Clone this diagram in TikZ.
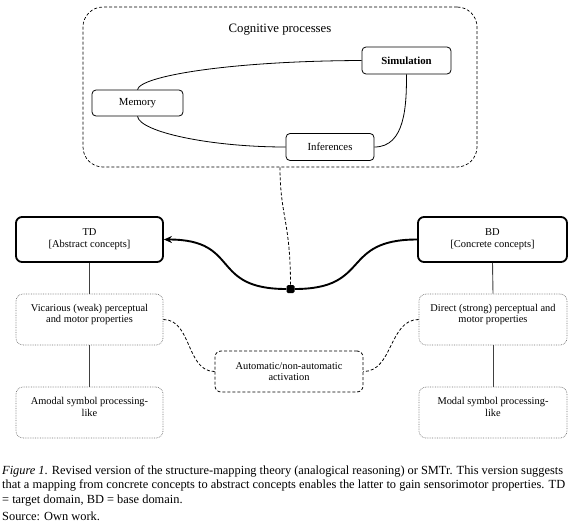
\documentclass[tikz,border=0pt]{standalone}
\usepackage{fontspec}
\setmainfont{Liberation Serif}
\usetikzlibrary{arrows.meta}
\begin{document}
\begin{tikzpicture}[x=1pt,y=-1pt,
  outerbox/.style={draw, line width=0.7pt, dash pattern=on 3pt off 2pt, rounded corners=20pt, inner sep=0pt},
  proc/.style={draw, line width=0.8pt, rounded corners=4pt, inner sep=0pt, font=\fontsize{10.8}{12}\selectfont},
  domainbox/.style={draw, line width=1.8pt, rounded corners=6pt, inner sep=0pt, align=center, font=\fontsize{10.5}{12}\selectfont},
  prop/.style={draw=black!55, line width=0.7pt, densely dotted, rounded corners=7pt, inner sep=0pt},
  proptext/.style={anchor=north, align=center, inner sep=0pt, font=\fontsize{10.4}{11.5}\selectfont},
  autobox/.style={draw, line width=0.8pt, dash pattern=on 3pt off 2pt, rounded corners=6pt, inner sep=0pt, align=center, font=\fontsize{10.4}{11.5}\selectfont},
  link/.style={draw, line width=0.8pt},
  vline/.style={draw=black!75, line width=0.9pt},
  dashlink/.style={draw, line width=0.8pt, dash pattern=on 3pt off 2pt},
  thickline/.style={draw, line width=1.9pt},
  captext/.style={anchor=base west, inner sep=0pt, font=\fontsize{12.4}{14}\selectfont}
]
\useasboundingbox (0,0) rectangle (580,530);

% cognitive processes
\node[outerbox, minimum width=394pt, minimum height=160pt] (cog) at (280,87) {};
\node[font=\fontsize{12.8}{14}\selectfont, inner sep=0pt] (cogt) at (280,30) {Cognitive processes};
\node[proc, minimum width=89pt, minimum height=27pt] (sim) at (406.5,60.5) {\textbf{Simulation}};
\node[proc, minimum width=91pt, minimum height=26pt] (mem) at (137.5,103) {Memory};
\node[proc, minimum width=88pt, minimum height=27pt] (inf) at (330,147) {Inferences};

\draw[link] (mem.north) .. controls (140,76) and (230,61) .. (sim.west);
\draw[link] (mem.south) .. controls (140,132) and (210,147) .. (inf.west);
\draw[link] (sim.south) to[out=-90,in=0] (inf.east);

% domains
\node[domainbox, minimum width=147pt, minimum height=45pt] (td) at (89.5,239.5) {TD\\{[Abstract concepts]}};
\node[domainbox, minimum width=149pt, minimum height=45pt] (bd) at (492.5,239.5) {BD\\{[Concrete concepts]}};

\node[fill, minimum size=8pt, inner sep=0pt, rounded corners=1.5pt] (sq) at (290.5,289) {};
\draw[thickline] (bd.west) to[out=180,in=0,looseness=1.5] (sq.east);
\draw[thickline, -{Stealth[length=8pt,width=7pt]}] (sq.west) to[out=180,in=0,looseness=1.5] (td.east);
\draw[dashlink] (cog.south) .. controls (280,215) and (290.5,222) .. (sq.north);

% properties
\node[prop, minimum width=147pt, minimum height=51pt] (vic) at (89.5,319.5) {};
\node[proptext] (vict) at ([yshift=-10pt]vic.north) {Vicarious (weak) perceptual\\and motor properties};
\node[prop, minimum width=148pt, minimum height=51pt] (dir) at (493,319.5) {};
\node[proptext] (dirt) at ([yshift=-10pt]dir.north) {Direct (strong) perceptual and\\motor properties};
\node[prop, minimum width=147pt, minimum height=51pt] (amo) at (89.5,412.5) {};
\node[proptext] (amot) at ([yshift=-10.5pt]amo.north) {Amodal symbol processing-\\like};
\node[prop, minimum width=148pt, minimum height=51pt] (mod) at (493,412.5) {};
\node[proptext] (modt) at ([yshift=-10.5pt]mod.north) {Modal symbol processing-\\like};

\node[autobox, minimum width=148pt, minimum height=41pt] (auto) at (289,371.5) {Automatic/non-automatic\\activation};

\draw[vline] (td.south) -- (vic.north);
\draw[vline] (vic.south) -- (amo.north);
\draw[vline] (bd.south) -- (dir.north);
\draw[vline] (dir.south) -- (mod.north);

\draw[dashlink] (vic.east) to[out=0,in=180] (auto.west);
\draw[dashlink] (dir.west) to[out=180,in=0] (auto.east);

% caption
\node[captext] (cap1) at (2,474) {\makebox[561pt][s]{\textit{Figure 1}. Revised version of the structure-mapping theory (analogical reasoning) or SMTr. This version suggests}};
\node[captext] (cap2) at (2,488.5) {\makebox[563pt][s]{that a mapping from concrete concepts to abstract concepts enables the latter to gain sensorimotor properties. TD}};
\node[captext] (cap3) at (2,503) {= target domain, BD = base domain.};
\node[captext, font=\fontsize{12.4}{12}\selectfont] (src) at (2,520) {Source: Own work.};
\end{tikzpicture}
\end{document}
